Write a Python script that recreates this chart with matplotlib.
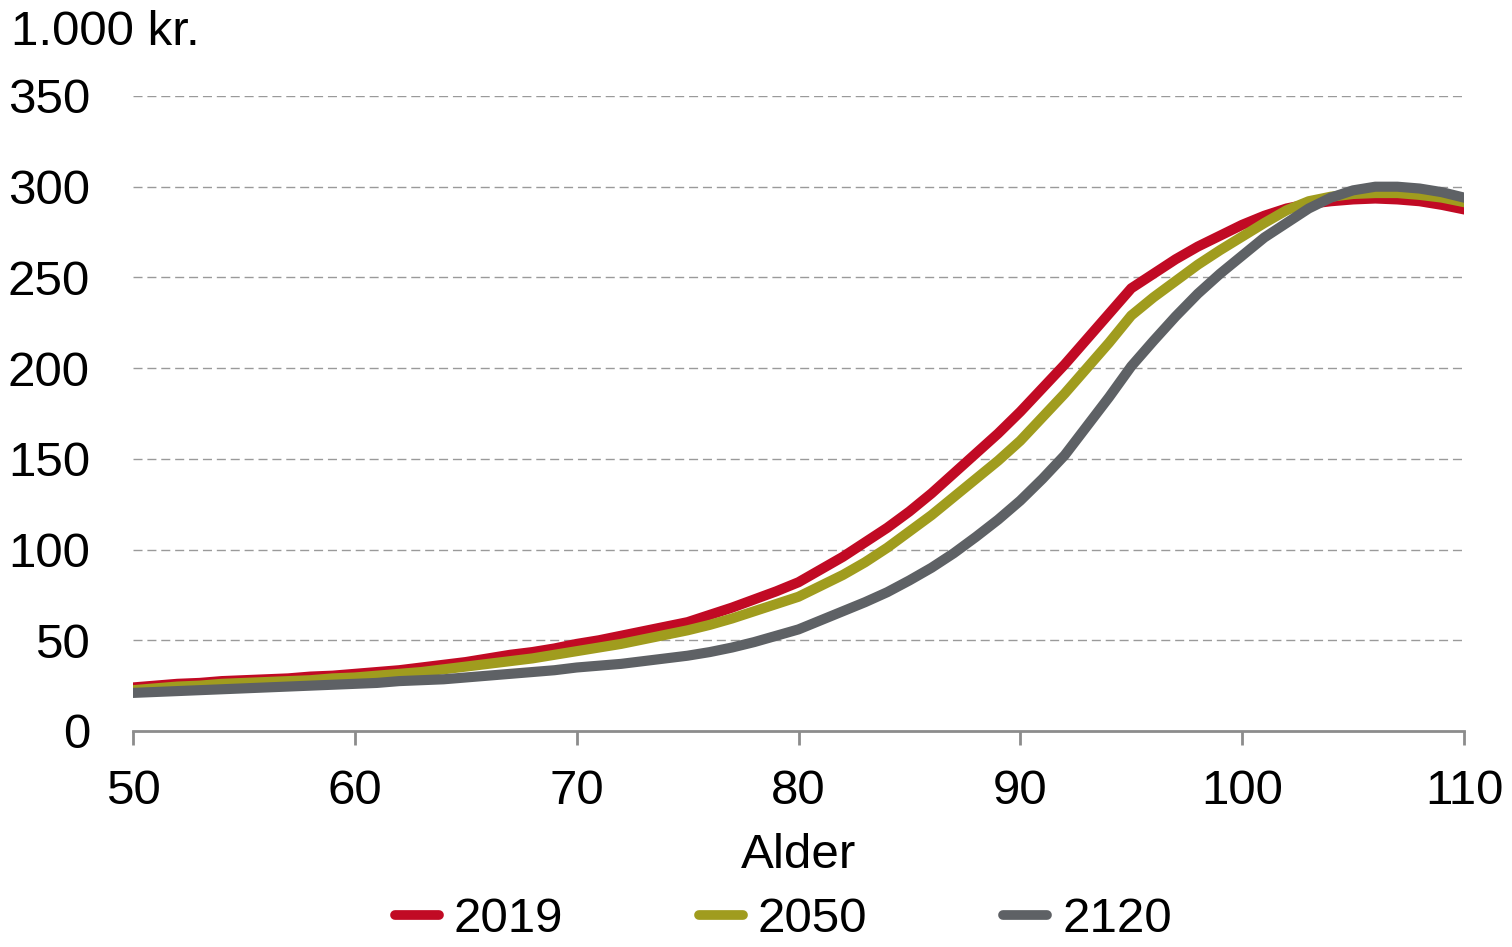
import numpy as np
import matplotlib
matplotlib.use("Agg")
import matplotlib.pyplot as plt

# data --------------------------------------------------------------
alder = np.arange(50, 111)

udg_2019 = [24, 25, 26, 26.5, 27.5, 28, 28.5, 29, 30, 30.5,
            31.5, 32.5, 33.5, 35, 36.5, 38, 40, 42, 43.5, 45.5,
            48, 50, 52.5, 55, 57.5, 60, 64, 68, 72.5, 77,
            82, 89, 96, 104, 112, 121, 131, 142, 153, 164,
            176, 189, 202, 216, 230, 244, 252, 260, 267, 273,
            279, 284, 288, 290.5, 292, 293, 293.5, 293, 292, 290,
            287.5]

udg_2050 = [22.5, 23.5, 24.5, 25, 26, 26.5, 27, 27.5, 28, 29,
            29.5, 30.5, 31.5, 32.5, 34, 35.5, 37, 38.5, 40, 42,
            44, 46, 48, 50.5, 53, 55.5, 58.5, 62, 66, 70,
            74, 80, 86, 93, 101, 110, 119, 129, 139, 149,
            160, 173, 186, 200, 214, 229, 239, 248, 257, 265,
            272.5, 280, 287, 292, 294.5, 296, 296.5, 296.5, 295.5, 294,
            291.5]

udg_2120 = [21, 21.5, 22, 22.5, 23, 23.5, 24, 24.5, 25, 25.5,
            26, 26.5, 27.5, 28, 28.5, 29.5, 30.5, 31.5, 32.5, 33.5,
            35, 36, 37, 38.5, 40, 41.5, 43.5, 46, 49, 52.5,
            56, 61, 66, 71, 76.5, 83, 90, 98, 107, 116.5,
            127, 139, 152, 168, 184, 201, 215, 228.5, 241, 252,
            262, 272, 280, 288, 294, 298, 300, 300, 299, 297,
            294]

serier = ["2019", "2050", "2120"]
farver = ["#C10A24", "#A09C1E", "#5E6165"]
# ------------------------------------------------------------------

plt.rcParams['font.family'] = ['Liberation Sans', 'DejaVu Sans']
fs = 35.5

fig = plt.figure(figsize=(15.12, 9.47), dpi=100)
ax = fig.add_axes([133/1512, 1-731/947, (1464-133)/1512, (731-96)/947])

for navn, y, c in zip(serier, [udg_2019, udg_2050, udg_2120], farver):
    ax.plot(alder, y, color=c, lw=7.3, label=navn, solid_joinstyle='round')

ax.set_xlim(50, 110)
ax.set_ylim(0, 350)
ax.set_xticks(np.arange(50, 111, 10))
ax.set_yticks(np.arange(0, 351, 50))

for s in ["top", "right", "left"]:
    ax.spines[s].set_visible(False)
ax.spines["bottom"].set_color("#8c8c8c")
ax.spines["bottom"].set_linewidth(2)

ax.tick_params(axis="x", direction="out", length=10, width=2, color="#8c8c8c",
               labelsize=fs, pad=17)
ax.tick_params(axis="y", length=0, labelsize=fs, pad=31)

for v in np.arange(50, 351, 50):
    ax.axhline(v, color="#9a9a9a", lw=1.0, ls=(0, (6.5, 3.5)), zorder=0)

fig.text(11/1512, 1-45/947, "1.000 kr.", fontsize=fs, va="baseline", ha="left")
fig.text(799/1512, 1-868/947, "Alder", fontsize=fs, va="baseline", ha="center")

leg = fig.legend(loc="center", bbox_to_anchor=(0.518, 0.029), ncol=3, frameon=False,
                 fontsize=fs, handlelength=0.9, handletextpad=0.3,
                 columnspacing=2.75, borderpad=0.1)
for l in leg.get_lines():
    l.set_linewidth(7)
    l.set_solid_capstyle("round")

fig.savefig("out.png", dpi=100)
